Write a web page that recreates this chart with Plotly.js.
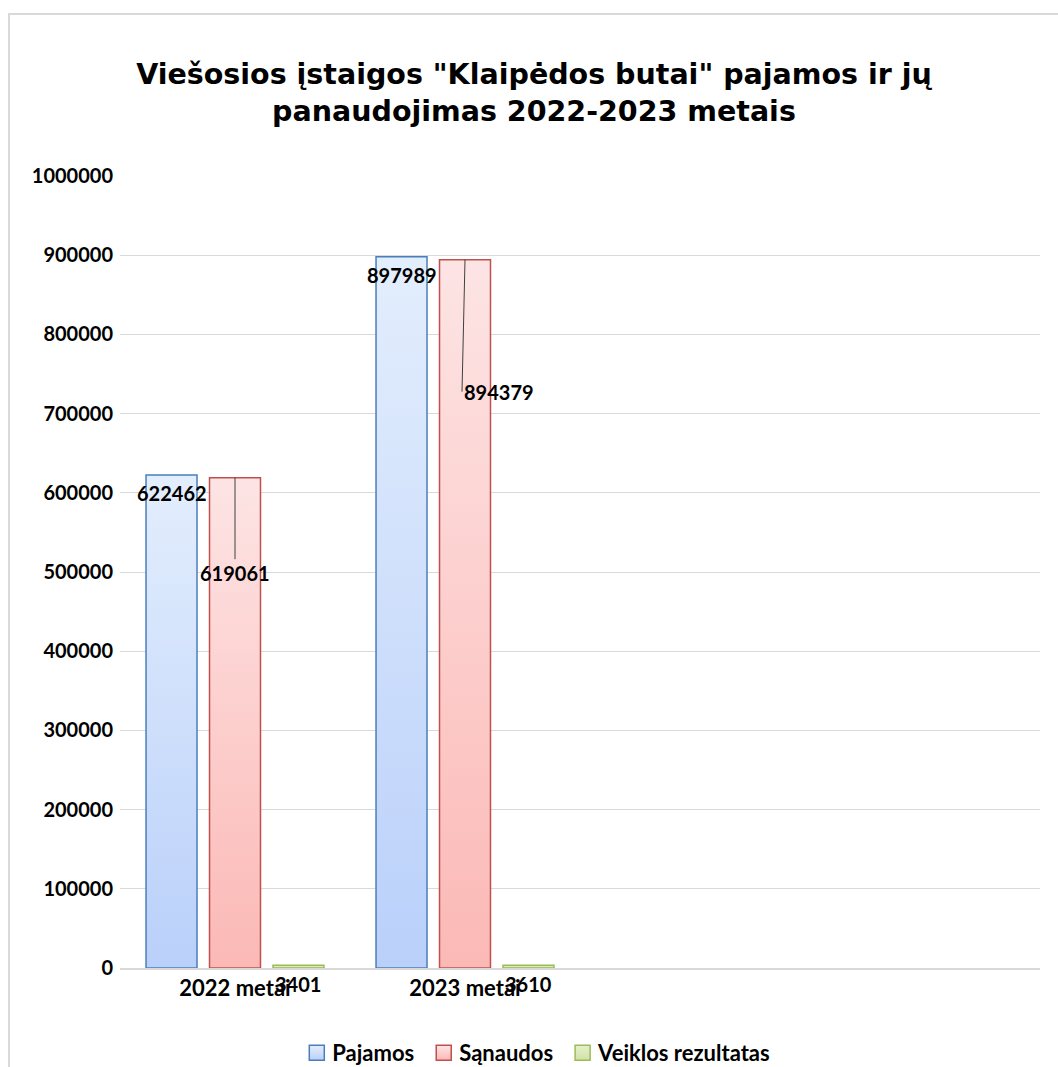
<!DOCTYPE html>
<html><head><meta charset="utf-8">
<script src="https://cdn.plot.ly/plotly-3.0.1.min.js"></script>
<style>
html,body{margin:0;padding:0;background:#fff;}
#wrap{position:relative;width:1058px;height:1067px;overflow:hidden;}
#chart{position:absolute;left:0;top:0;width:1058px;height:1067px;}
#frame{position:absolute;left:8px;top:13px;width:1100px;height:1100px;border:2px solid #d9d9d9;pointer-events:none;box-sizing:border-box;}
</style></head>
<body><div id="wrap"><div id="chart"></div><div id="frame"></div></div>
<script>
const categories = ['2022 metai', '2023 metai'];
const pajamos = [622462, 897989];
const sanaudos = [619061, 894379];
const veiklos = [3401, 3610];
const seriesNames = ['Pajamos', 'Sąnaudos', 'Veiklos rezultatas'];
const yTicks = [0, 100000, 200000, 300000, 400000, 500000, 600000, 700000, 800000, 900000, 1000000];

const FONT = 'Lato, "Open Sans", sans-serif';
const TITLEFONT = '"DejaVu Sans", "Open Sans", sans-serif';
const bargap = 0.172;
const slot = (1 - bargap) / 3;

const traces = [
  {type:'bar', name:seriesNames[0], x:categories, y:pajamos,
   marker:{color:'#d2e2fc', line:{color:'#4a7ebb', width:1.5}}},
  {type:'bar', name:seriesNames[1], x:categories, y:sanaudos,
   marker:{color:'#fdd0cf', line:{color:'#c0504d', width:1.5}}},
  {type:'bar', name:seriesNames[2], x:categories, y:veiklos,
   marker:{color:'#dbe9b8', line:{color:'#9bbb59', width:1.5}}}
];

const labelFont = {family:FONT, size:20, color:'#000', weight:'bold'};
const annotations = [];
categories.forEach((c, i) => {
  annotations.push({x:i - slot, y:pajamos[i], xref:'x', yref:'y', text:String(pajamos[i]),
    showarrow:false, yanchor:'top', yshift:-4, font:labelFont});
  annotations.push({x:i, y:sanaudos[i], xref:'x', yref:'y', text:String(sanaudos[i]),
    showarrow:true, arrowhead:0, arrowwidth:1, arrowcolor:'#404040', standoff:0,
    ax: i === 0 ? 0 : -3, ay: i === 0 ? 95 : 132,
    xanchor: i === 0 ? 'center' : 'left', font:labelFont});
  annotations.push({x:i + slot, y:veiklos[i], xref:'x', yref:'y', text:String(veiklos[i]),
    showarrow:false, yanchor:'top', yshift:-5, font:labelFont});
});

const layout = {
  width:1058, height:1067,
  paper_bgcolor:'#fff', plot_bgcolor:'#fff',
  margin:{l:120, r:18, t:176, b:99},
  font:{family:FONT, color:'#000'},
  title:{text:'<b>Viešosios įstaigos "Klaipėdos butai" pajamos ir jų<br>panaudojimas 2022-2023 metais</b>',
    font:{family:TITLEFONT, size:28.5, color:'#000'}, x:0.5047, xref:'container', xanchor:'center',
    y:1-84/1067, yref:'container', yanchor:'middle'},
  barmode:'group', bargap:bargap, bargroupgap:0.197,
  xaxis:{type:'category', range:[-0.5, 3.5], showgrid:false, zeroline:false,
    showline:true, linecolor:'#d9d9d9', linewidth:2, ticks:'',
    tickfont:{family:FONT, size:22, color:'#000', weight:'bold'}},
  yaxis:{range:[0, 1000000], tickvals:yTicks, ticktext:yTicks.map(String),
    showgrid:true, gridcolor:'#d9d9d9', gridwidth:1, zeroline:false, showline:false, ticks:'',
    ticklabelstandoff:6,
    tickfont:{family:FONT, size:20, color:'#000', weight:'bold'}},
  showlegend:true,
  legend:{orientation:'h', xref:'container', yref:'container', x:0.505, xanchor:'center',
    y:1-1053/1067, yanchor:'middle', font:{family:FONT, size:22, color:'#000', weight:'bold'},
    traceorder:'normal', itemwidth:30},
  annotations: annotations
};

const grads = [['gP', '#e3eefd', '#bad0fa'], ['gS', '#fde4e4', '#fbb9b6'], ['gV', '#e6f0cc', '#d0e2a6']];
function applyGradients(gd) {
  const ns = 'http://www.w3.org/2000/svg';
  const svg = gd.querySelector('svg.main-svg');
  if (!svg) return;
  let defs = svg.querySelector('defs');
  if (!defs) { defs = document.createElementNS(ns, 'defs'); svg.insertBefore(defs, svg.firstChild); }
  grads.forEach(([id, c1, c2]) => {
    if (document.getElementById(id)) return;
    const lg = document.createElementNS(ns, 'linearGradient');
    lg.setAttribute('id', id); lg.setAttribute('x1', '0'); lg.setAttribute('y1', '0');
    lg.setAttribute('x2', '0'); lg.setAttribute('y2', '1');
    [['0', c1], ['1', c2]].forEach(([o, c]) => {
      const s = document.createElementNS(ns, 'stop');
      s.setAttribute('offset', o); s.setAttribute('stop-color', c);
      lg.appendChild(s);
    });
    defs.appendChild(lg);
  });
  gd.querySelectorAll('g.trace.bars').forEach((t, k) => {
    t.querySelectorAll('path').forEach(p => { p.style.setProperty('fill', 'url(#' + grads[k % 3][0] + ')', 'important'); });
  });
  gd.querySelectorAll('g.legend g.traces').forEach((t, k) => {
    t.querySelectorAll('.legendpoints path').forEach(p => {
      p.setAttribute('d', 'M12,7.5H-3V-7.5H12Z');
      p.style.setProperty('fill', 'url(#' + grads[k % 3][0] + ')', 'important');
    });
  });
}

Plotly.newPlot('chart', traces, layout, {displayModeBar:false}).then(gd => {
  applyGradients(gd);
  gd.on('plotly_afterplot', () => applyGradients(gd));
  setTimeout(() => applyGradients(gd), 200);
  setTimeout(() => applyGradients(gd), 800);
});
</script></body></html>
